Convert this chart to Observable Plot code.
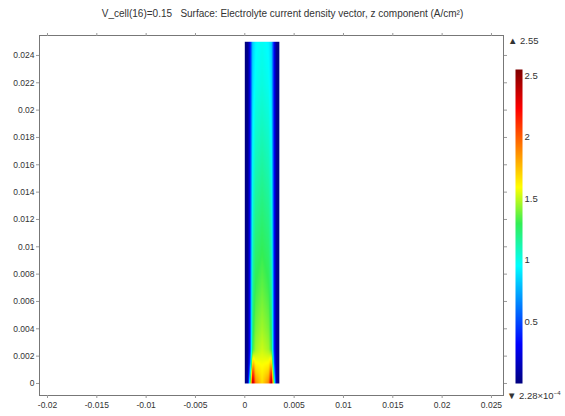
<!DOCTYPE html>
<html>
<head>
<meta charset="utf-8">
<script src="https://cdn.jsdelivr.net/npm/d3@7"></script>
<script src="https://cdn.jsdelivr.net/npm/@observablehq/plot@0.6"></script>
<style>
  html, body { margin: 0; padding: 0; background: #fff; }
  #wrap { position: relative; width: 565px; height: 416px; font-family: 'Liberation Sans Narrow', 'Liberation Sans', Arial, sans-serif; color: #333; }
  #title { position: absolute; left: 0; top: 8px; width: 565px; text-align: center; font-size: 10px; line-height: 12px; white-space: pre; }
  #main { position: absolute; left: 0; top: 26px; }
  #cbar { position: absolute; left: 505px; top: 26px; }
  .lab { position: absolute; font-size: 9.5px; line-height: 11px; white-space: nowrap; }
</style>
</head>
<body>
<div id="wrap">
  <div id="title">V_cell(16)=0.15   Surface: Electrolyte current density vector, z component (A/cm²)</div>
  <div id="main"></div>
  <div id="cbar"></div>
  <div class="lab" style="left:508px; top:35px;">▲ 2.55</div>
  <div class="lab" style="left:507px; top:388px;">▼ 2.28×10<sup style="font-size:6px; vertical-align: 4px;">−4</sup></div>
</div>
<script>
// Tick values
const xTicks = [-0.02, -0.015, -0.01, -0.005, 0, 0.005, 0.01, 0.015, 0.02, 0.025];
const yTicks = [0, 0.002, 0.004, 0.006, 0.008, 0.01, 0.012, 0.014, 0.016, 0.018, 0.02, 0.022, 0.024];
const cTicks = [0.5, 1, 1.5, 2, 2.5];

// Sample positions across the electrolyte strip (m), both ascending
const xs = [0, 0.0003, 0.0005, 0.0008, 0.0011, 0.00175, 0.0024, 0.0027, 0.003, 0.0032, 0.0035];
const ys = [0, 0.0008, 0.0015, 0.0025, 0.004, 0.007, 0.010, 0.013, 0.016, 0.019, 0.022, 0.025];

// Current density z component (A/cm^2), rows match ys, columns match xs
const v0000  = [0, 0.10, 1.10, 2.50, 1.90, 1.68, 1.90, 2.50, 1.10, 0.10, 0];
const v00008 = [0, 0.08, 0.70, 2.15, 1.72, 1.63, 1.72, 2.15, 0.70, 0.08, 0];
const v00015 = [0, 0.07, 0.45, 1.75, 1.60, 1.58, 1.60, 1.75, 0.45, 0.07, 0];
const v00025 = [0, 0.06, 0.34, 1.32, 1.46, 1.52, 1.46, 1.32, 0.34, 0.06, 0];
const v0004  = [0, 0.06, 0.32, 1.26, 1.40, 1.46, 1.40, 1.26, 0.32, 0.06, 0];
const v0007  = [0, 0.05, 0.31, 1.18, 1.31, 1.37, 1.31, 1.18, 0.31, 0.05, 0];
const v0010  = [0, 0.05, 0.30, 1.11, 1.24, 1.29, 1.24, 1.11, 0.30, 0.05, 0];
const v0013  = [0, 0.05, 0.29, 1.05, 1.17, 1.22, 1.17, 1.05, 0.29, 0.05, 0];
const v0016  = [0, 0.05, 0.28, 0.99, 1.10, 1.15, 1.10, 0.99, 0.28, 0.05, 0];
const v0019  = [0, 0.04, 0.27, 0.93, 1.04, 1.08, 1.04, 0.93, 0.27, 0.04, 0];
const v0022  = [0, 0.04, 0.26, 0.88, 0.98, 1.02, 0.98, 0.88, 0.26, 0.04, 0];
const v0025  = [0, 0.04, 0.25, 0.84, 0.94, 0.98, 0.94, 0.84, 0.25, 0.04, 0];
const rows = [v0000, v00008, v00015, v00025, v0004, v0007, v0010, v0013, v0016, v0019, v0022, v0025];

// Colour map stops (rainbow)
const cStops = [0, 0.319, 0.956, 1.3, 1.594, 2.231, 2.55];
const cColors = ["#00007f", "#0000ff", "#00ffff", "#33ee55", "#ffff00", "#ff0000", "#7f0000"];

// Bilinear lookup into the read grid (rendering only)
function locate(arr, t) {
  let i = d3.bisectRight(arr, t) - 1;
  i = Math.max(0, Math.min(arr.length - 2, i));
  const f = Math.max(0, Math.min(1, (t - arr[i]) / (arr[i + 1] - arr[i])));
  return [i, f];
}
function field(x, y) {
  const [i, fx] = locate(xs, x);
  const [j, fy] = locate(ys, y);
  const a = rows[j][i] * (1 - fx) + rows[j][i + 1] * fx;
  const b = rows[j + 1][i] * (1 - fx) + rows[j + 1][i + 1] * fx;
  return a * (1 - fy) + b * fy;
}

const colorScale = {type: "linear", domain: cStops, range: cColors, clamp: true};
const font = "'Liberation Sans Narrow', 'Liberation Sans', Arial, sans-serif";

const main = Plot.plot({
  width: 565,
  height: 390,
  marginTop: 9,
  marginBottom: 21,
  marginLeft: 39,
  marginRight: 62,
  style: {fontFamily: font, fontSize: "8.5px", color: "#333", background: "transparent"},
  x: {domain: [-0.02081, 0.02622], axis: null},
  y: {domain: [-0.00088, 0.02546], axis: null},
  color: colorScale,
  marks: [
    Plot.raster({
      fill: field,
      x1: 0, x2: xs[xs.length - 1], y1: 0, y2: ys[ys.length - 1],
      width: 140, height: 684
    }),
    Plot.frame({stroke: "#777"}),
    Plot.axisX(xTicks, {anchor: "bottom", tickSize: 3, tickPadding: 3, tickFormat: d => String(d), label: null, stroke: "#999"}),
    Plot.axisX(xTicks, {anchor: "top", tickSize: 3, tickFormat: () => "", label: null, stroke: "#999"}),
    Plot.axisY(yTicks, {anchor: "left", tickSize: 3, tickPadding: 2, tickFormat: d => String(d), label: null, stroke: "#999"}),
    Plot.axisY(yTicks, {anchor: "right", tickSize: 3, tickFormat: () => "", label: null, stroke: "#999"})
  ]
});
document.getElementById("main").appendChild(main);

const cbar = Plot.plot({
  width: 60,
  height: 390,
  marginTop: 43,
  marginBottom: 33,
  marginLeft: 10,
  marginRight: 43,
  style: {fontFamily: font, fontSize: "9.5px", color: "#333", background: "transparent"},
  x: {domain: [0, 1], axis: null},
  y: {domain: [0, 2.55], axis: null},
  color: colorScale,
  marks: [
    Plot.raster({fill: (x, y) => y, x1: 0, x2: 1, y1: 0, y2: 2.55, width: 2, height: 314}),
    Plot.axisY(cTicks, {anchor: "right", tickSize: 0, tickPadding: 2, tickFormat: d => String(d), label: null})
  ]
});
document.getElementById("cbar").appendChild(cbar);
</script>
</body>
</html>
